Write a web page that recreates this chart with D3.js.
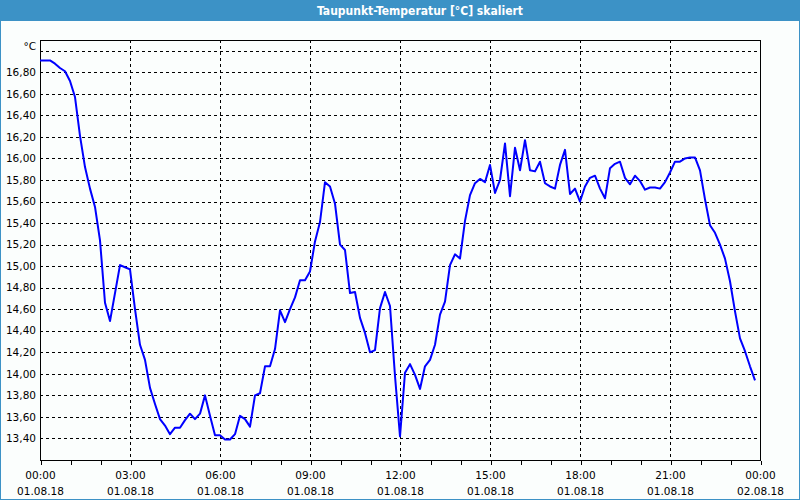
<!DOCTYPE html>
<html>
<head>
<meta charset="utf-8">
<script src="https://cdn.jsdelivr.net/npm/d3@7"></script>
<style>
  body { margin: 0; background: #fbfefd; }
  svg { display: block; }
  text { font-family: "DejaVu Sans", sans-serif; font-size: 10.5px; fill: #000; }
</style>
</head>
<body>
<script>
const width = 800;
const height = 500;
const margin = {top: 40, right: 40, bottom: 40, left: 40};

const title = "Taupunkt-Temperatur [°C] skaliert";
const unit = "°C";
const dayStart = new Date(2018, 7, 1, 0, 0);
const dayEnd = new Date(2018, 7, 2, 0, 0);
const sampleMinutes = 10;

// dew point readings, one every 10 minutes from 01.08.18 00:00
const dewPoint = [
    16.91, 16.91, 16.91, 16.88, 16.84, 16.81, 16.72, 16.57, 16.21, 15.92, 15.72, 15.55,
    15.24, 14.66, 14.49, 14.75, 15.01, 14.99, 14.97, 14.60, 14.27, 14.13, 13.87, 13.72,
    13.58, 13.52, 13.44, 13.50, 13.50, 13.57, 13.63, 13.58, 13.63, 13.80, 13.61, 13.43,
    13.43, 13.39, 13.39, 13.44, 13.61, 13.58, 13.51, 13.80, 13.82, 14.07, 14.07, 14.23,
    14.59, 14.48, 14.60, 14.71, 14.87, 14.87, 14.95, 15.23, 15.41, 15.78, 15.74, 15.58,
    15.20, 15.15, 14.75, 14.76, 14.52, 14.38, 14.20, 14.22, 14.61, 14.76, 14.63, 13.98,
    13.42, 14.01, 14.09, 13.99, 13.86, 14.07, 14.13, 14.27, 14.55, 14.67, 15.01, 15.11,
    15.07, 15.42, 15.66, 15.77, 15.81, 15.78, 15.94, 15.68, 15.80, 16.14, 15.65, 16.10,
    15.89, 16.17, 15.89, 15.88, 15.97, 15.77, 15.74, 15.72, 15.94, 16.08, 15.67, 15.72,
    15.60, 15.74, 15.82, 15.84, 15.72, 15.63, 15.91, 15.95, 15.97, 15.82, 15.76, 15.84,
    15.79, 15.71, 15.73, 15.73, 15.72, 15.78, 15.87, 15.97, 15.97, 16.00, 16.01, 16.01,
    15.89, 15.62, 15.38, 15.31, 15.20, 15.07, 14.86, 14.58, 14.33, 14.21, 14.07, 13.94
];

const yTicks = [13.4, 13.6, 13.8, 14.0, 14.2, 14.4, 14.6, 14.8, 15.0, 15.2, 15.4, 15.6,
    15.8, 16.0, 16.2, 16.4, 16.6, 16.8, 17.0];
const yDomain = [13.2, 17.1];

const data = dewPoint.map((v, i) => ({
    t: d3.timeMinute.offset(dayStart, i * sampleMinutes),
    v: v
}));

const svg = d3.select("body")
    .append("svg")
    .attr("width", width)
    .attr("height", height);

// window frame and title bar
svg.append("rect")
    .attr("x", 0.5).attr("y", 0.5)
    .attr("width", width - 1).attr("height", height - 1)
    .attr("fill", "#fbfefd")
    .attr("stroke", "#3c92c6");

svg.append("rect")
    .attr("x", 0).attr("y", 0)
    .attr("width", width).attr("height", 21)
    .attr("fill", "#3c92c6");

svg.append("text")
    .attr("x", 420)
    .attr("y", 15)
    .attr("text-anchor", "middle")
    .style("font-family", "'DejaVu Sans Condensed', 'DejaVu Sans', sans-serif")
    .style("font-size", "12px")
    .style("font-weight", "bold")
    .style("fill", "#fff")
    .text(title);

const x = d3.scaleTime()
    .domain([dayStart, dayEnd])
    .range([margin.left, width - margin.right]);

const y = d3.scaleLinear()
    .domain(yDomain)
    .range([height - margin.bottom, margin.top]);

const px = v => Math.round(v) + 0.5;

// horizontal grid
svg.append("g")
    .selectAll("line")
    .data(yTicks)
    .join("line")
    .attr("x1", margin.left)
    .attr("x2", width - margin.right)
    .attr("y1", d => px(y(d)))
    .attr("y2", d => px(y(d)))
    .attr("stroke", "#000")
    .attr("stroke-dasharray", "3,3")
    .attr("shape-rendering", "crispEdges");

// vertical grid every 3 hours
const majorTimes = d3.timeHour.every(3).range(dayStart, d3.timeMinute.offset(dayEnd, 1));
svg.append("g")
    .selectAll("line")
    .data(majorTimes.slice(1, -1))
    .join("line")
    .attr("x1", d => px(x(d)))
    .attr("x2", d => px(x(d)))
    .attr("y1", margin.top)
    .attr("y2", height - margin.bottom)
    .attr("stroke", "#000")
    .attr("stroke-dasharray", "3,3")
    .attr("shape-rendering", "crispEdges");

// y labels
svg.append("g")
    .selectAll("text")
    .data(yTicks.slice(0, -1))
    .join("text")
    .attr("x", 36)
    .attr("y", d => y(d))
    .attr("dy", "0.35em")
    .attr("text-anchor", "end")
    .text(d => d3.format(".2f")(d).replace(".", ","));

svg.append("text")
    .attr("x", 36)
    .attr("y", 50)
    .attr("text-anchor", "end")
    .text(unit);

// x axis with hourly ticks
const xAxis = d3.axisBottom(x)
    .ticks(d3.timeHour.every(1))
    .tickSize(4)
    .tickFormat("");

const gx = svg.append("g")
    .attr("transform", `translate(0.5,${height - margin.bottom + 0.5})`)
    .call(xAxis);
gx.select(".domain").remove();
gx.selectAll("line").attr("stroke", "#000").attr("shape-rendering", "crispEdges");

const labels = svg.append("g")
    .selectAll("text")
    .data(majorTimes)
    .join("text")
    .attr("x", d => x(d) + 0.5)
    .attr("text-anchor", "middle");
labels.append("tspan")
    .attr("x", d => x(d) + 0.5)
    .attr("y", 479)
    .text(d3.timeFormat("%H:%M"));
labels.append("tspan")
    .attr("x", d => x(d) + 0.5)
    .attr("y", 495)
    .text(d3.timeFormat("%d.%m.%y"));

// plot frame
svg.append("rect")
    .attr("x", margin.left + 0.5)
    .attr("y", margin.top + 0.5)
    .attr("width", width - margin.left - margin.right)
    .attr("height", height - margin.top - margin.bottom)
    .attr("fill", "none")
    .attr("stroke", "#000")
    .attr("shape-rendering", "crispEdges");

// the series
const line = d3.line()
    .x(d => x(d.t))
    .y(d => y(d.v));

svg.append("path")
    .datum(data)
    .attr("d", line)
    .attr("fill", "none")
    .attr("stroke", "#0000ff")
    .attr("stroke-width", 2)
    .attr("stroke-linejoin", "round");
</script>
</body>
</html>
